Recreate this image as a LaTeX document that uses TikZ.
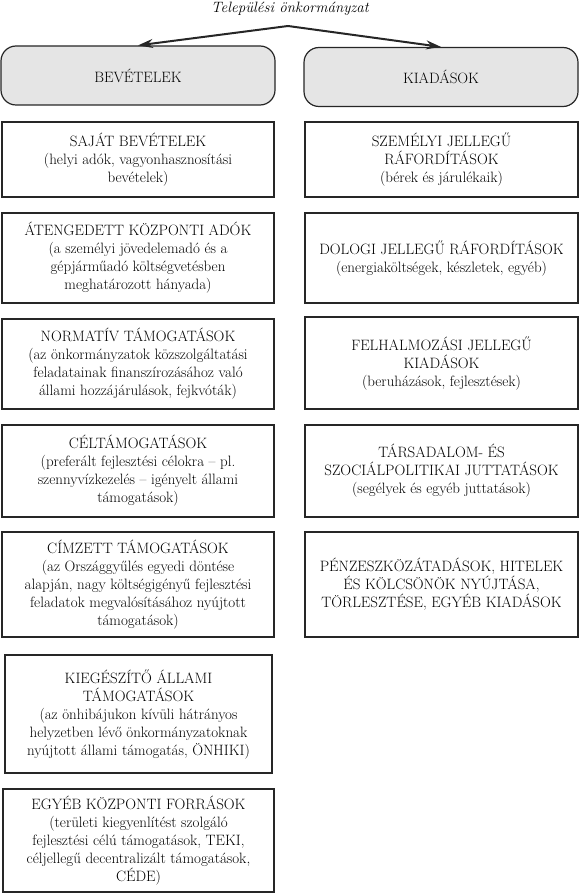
\documentclass[tikz,border=0pt]{standalone}
\usepackage{fontspec}
\usepackage{tikz}
\usetikzlibrary{arrows.meta,positioning}

\begin{document}
\begin{tikzpicture}[x=1pt,y=-1pt,
   txt/.style={font=\fontsize{15}{18}\selectfont,align=center,inner sep=1pt},
   group/.style={txt,draw=black!85,line width=1.2pt,fill=black!10,rounded corners=15pt,minimum width=274pt,minimum height=59pt},
   box/.style={txt,draw=black!85,line width=1.2pt}]
   \useasboundingbox (0,0) rectangle (580,893);
   \node[txt,font=\fontsize{15}{18}\selectfont\itshape,anchor=base] (cim) at (290,13) {Települési önkormányzat};
   \coordinate (apex) at (288,26);
   \node[group] (bev) at (138,75.5) {BEVÉTELEK};
   \node[group] (kiad) at (441,77) {KIADÁSOK};
   \foreach \dest in {bev, kiad} % arrows from the title to both groups
   \draw[line width=2pt,black!85,-{Stealth[length=15pt,width=9pt]}] (apex) -- (\dest.north);
   % left column: revenues
   \foreach \pos/\w/\h/\name/\disp in {
      {(138,159.5)/272/75/sajat/{SAJÁT BEVÉTELEK\\(helyi adók, vagyonhasznosítási\\bevételek)}},
      {(138,258)/272/90/atengedett/{ÁTENGEDETT KÖZPONTI ADÓK\\(a személyi jövedelemadó és a\\gépjárműadó költségvetésben\\meghatározott hányada)}},
      {(138,364)/272/90/normativ/{NORMATÍV TÁMOGATÁSOK\\(az önkormányzatok közszolgáltatási\\feladatainak finanszírozásához való\\állami hozzájárulások, fejkvóták)}},
      {(138,471)/272/92/cel/{CÉLTÁMOGATÁSOK\\(preferált fejlesztési célokra – pl.\\szennyvízkezelés – igényelt állami\\támogatások)}},
      {(138,584.5)/272/105/cimzett/{CÍMZETT TÁMOGATÁSOK\\(az Országgyűlés egyedi döntése\\alapján, nagy költségigényű fejlesztési\\feladatok megvalósításához nyújtott\\támogatások)}},
      {(138.5,714)/267/118/kiegeszito/{KIEGÉSZÍTŐ ÁLLAMI\\TÁMOGATÁSOK\\(az önhibájukon kívüli hátrányos\\helyzetben lévő önkormányzatoknak\\nyújtott állami támogatás, ÖNHIKI)}},
      {(138.5,840.5)/271/103/egyeb/{EGYÉB KÖZPONTI FORRÁSOK\\(területi kiegyenlítést szolgáló\\fejlesztési célú támogatások, TEKI,\\céljellegű decentralizált támogatások,\\CÉDE)}}}
   \node[box,minimum width=\w pt,minimum height=\h pt] (\name) at \pos {\disp};
   % right column: expenditures
   \foreach \pos/\h/\name/\disp in {
      {(441.5,159.5)/75/szemelyi/{SZEMÉLYI JELLEGŰ\\RÁFORDÍTÁSOK\\(bérek és járulékaik)}},
      {(441.5,258)/90/dologi/{DOLOGI JELLEGŰ RÁFORDÍTÁSOK\\(energiaköltségek, készletek, egyéb)}},
      {(441.5,363)/92/felhalmozasi/{FELHALMOZÁSI JELLEGŰ\\KIADÁSOK\\(beruházások, fejlesztések)}},
      {(441.5,471)/92/tarsadalom/{TÁRSADALOM- ÉS\\SZOCIÁLPOLITIKAI JUTTATÁSOK\\(segélyek és egyéb juttatások)}},
      {(441.5,584.5)/105/penzeszkoz/{PÉNZESZKÖZÁTADÁSOK, HITELEK\\ÉS KÖLCSÖNÖK NYÚJTÁSA,\\TÖRLESZTÉSE, EGYÉB KIADÁSOK}}}
   \node[box,minimum width=273pt,minimum height=\h pt] (\name) at \pos {\disp};
\end{tikzpicture}
\end{document}
